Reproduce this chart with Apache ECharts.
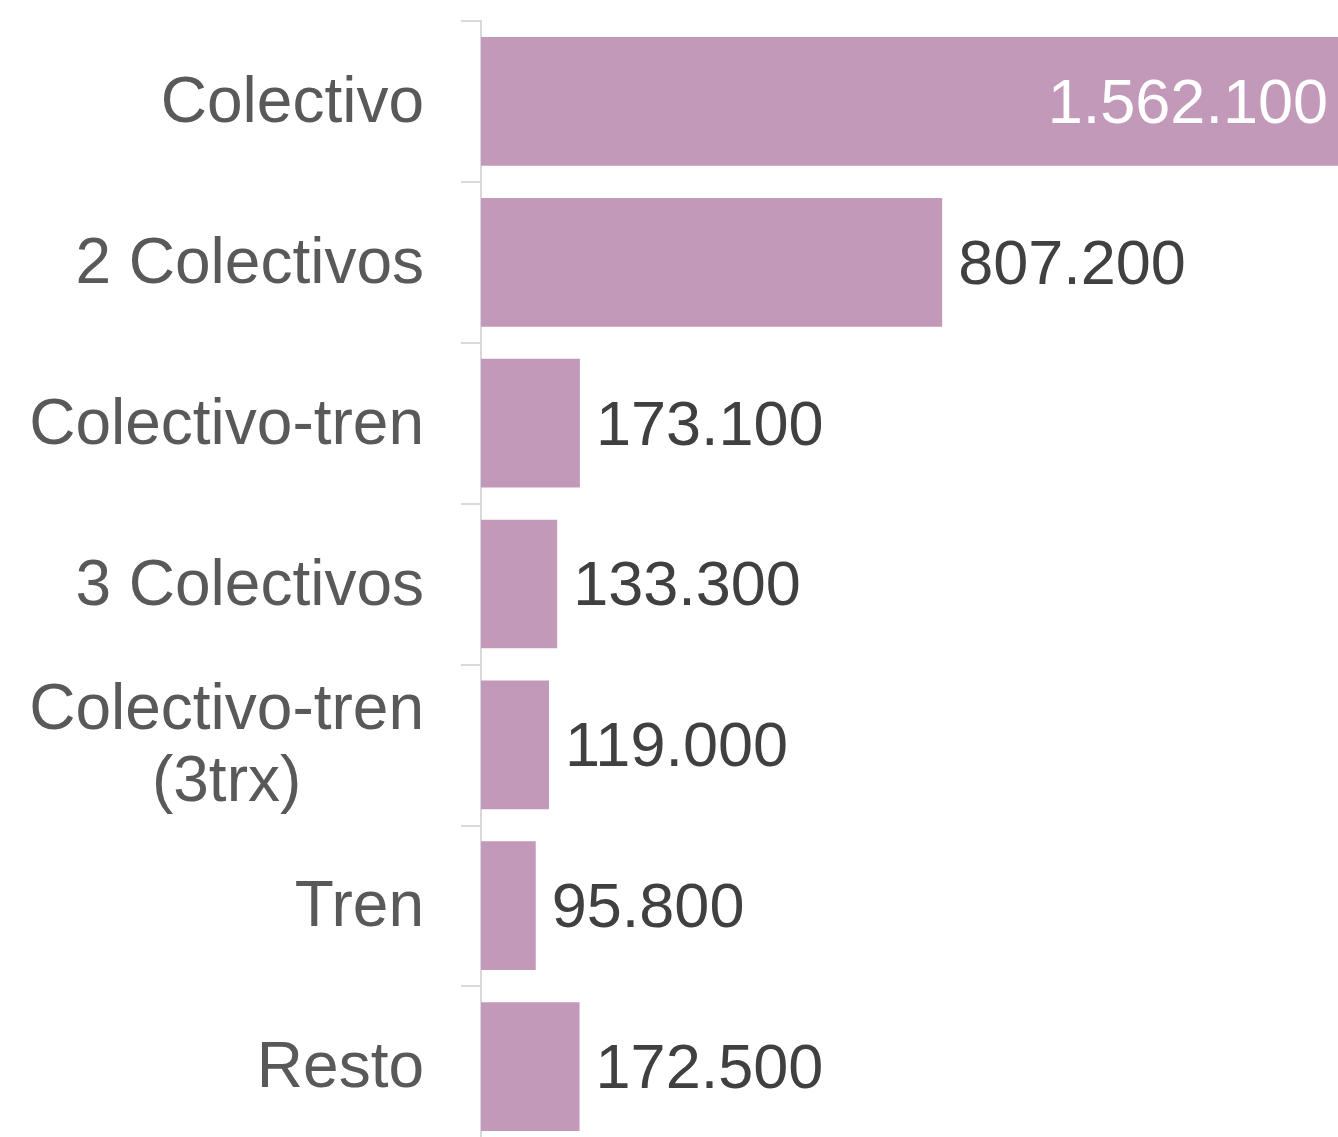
<!DOCTYPE html>
<html>
<head>
<meta charset="utf-8">
<script src="https://cdn.jsdelivr.net/npm/echarts@6/dist/echarts.min.js"></script>
<style>
  html, body { margin: 0; padding: 0; background: #fff; }
  #chart { width: 1338px; height: 1137px; }
</style>
</head>
<body>
<div id="chart"></div>
<script>
// categorias (de arriba hacia abajo)
const categorias = ['Colectivo', '2 Colectivos', 'Colectivo-tren', '3 Colectivos', 'Colectivo-tren\n(3trx)', 'Tren', 'Resto'];
// viajes por combinacion
const valores = [1562100, 807200, 173100, 133300, 119000, 95800, 172500];

const fuente = '"Liberation Sans", Arial, sans-serif';

function formatoMiles(v) {
  return String(v).replace(/\B(?=(\d{3})+(?!\d))/g, '.');
}

const chart = echarts.init(document.getElementById('chart'));

chart.setOption({
  animation: false,
  grid: {
    left: 481, top: 21, width: 857, height: 1126,
    containLabel: false,
    outerBoundsMode: 'none'
  },
  xAxis: {
    type: 'value',
    min: 0,
    max: 1500000, // la primera barra queda cortada en el borde, como en el original
    show: false
  },
  yAxis: {
    type: 'category',
    inverse: true,
    data: categorias,
    axisLine: { show: true, lineStyle: { color: '#d9d9d9', width: 2 } },
    axisTick: { show: true, length: 20, lineStyle: { color: '#d9d9d9', width: 2 } },
    axisLabel: {
      margin: 57,
      color: '#595959',
      fontFamily: fuente,
      fontSize: 64,
      lineHeight: 72,
      padding: [6, 0, 0, 0],
      formatter: function (v) {
        return v.split('\n').map(s => '{c|' + s + '}').join('\n');
      },
      rich: {
        c: { align: 'center', color: '#595959', fontFamily: fuente, fontSize: 64, lineHeight: 72 }
      }
    }
  },
  series: [{
    type: 'bar',
    clip: true,
    barCategoryGap: '20%',
    itemStyle: { color: '#C399B9' },
    label: {
      show: true,
      position: 'right',
      distance: 16,
      offset: [0, 4],
      color: '#404040',
      fontFamily: fuente,
      fontSize: 63,
      formatter: p => formatoMiles(p.value)
    },
    data: valores.map((v, i) => i === 0 ? {
      value: v,
      label: { position: 'insideRight', distance: 10, offset: [0, 4], color: '#ffffff' }
    } : v)
  }]
});
</script>
</body>
</html>
